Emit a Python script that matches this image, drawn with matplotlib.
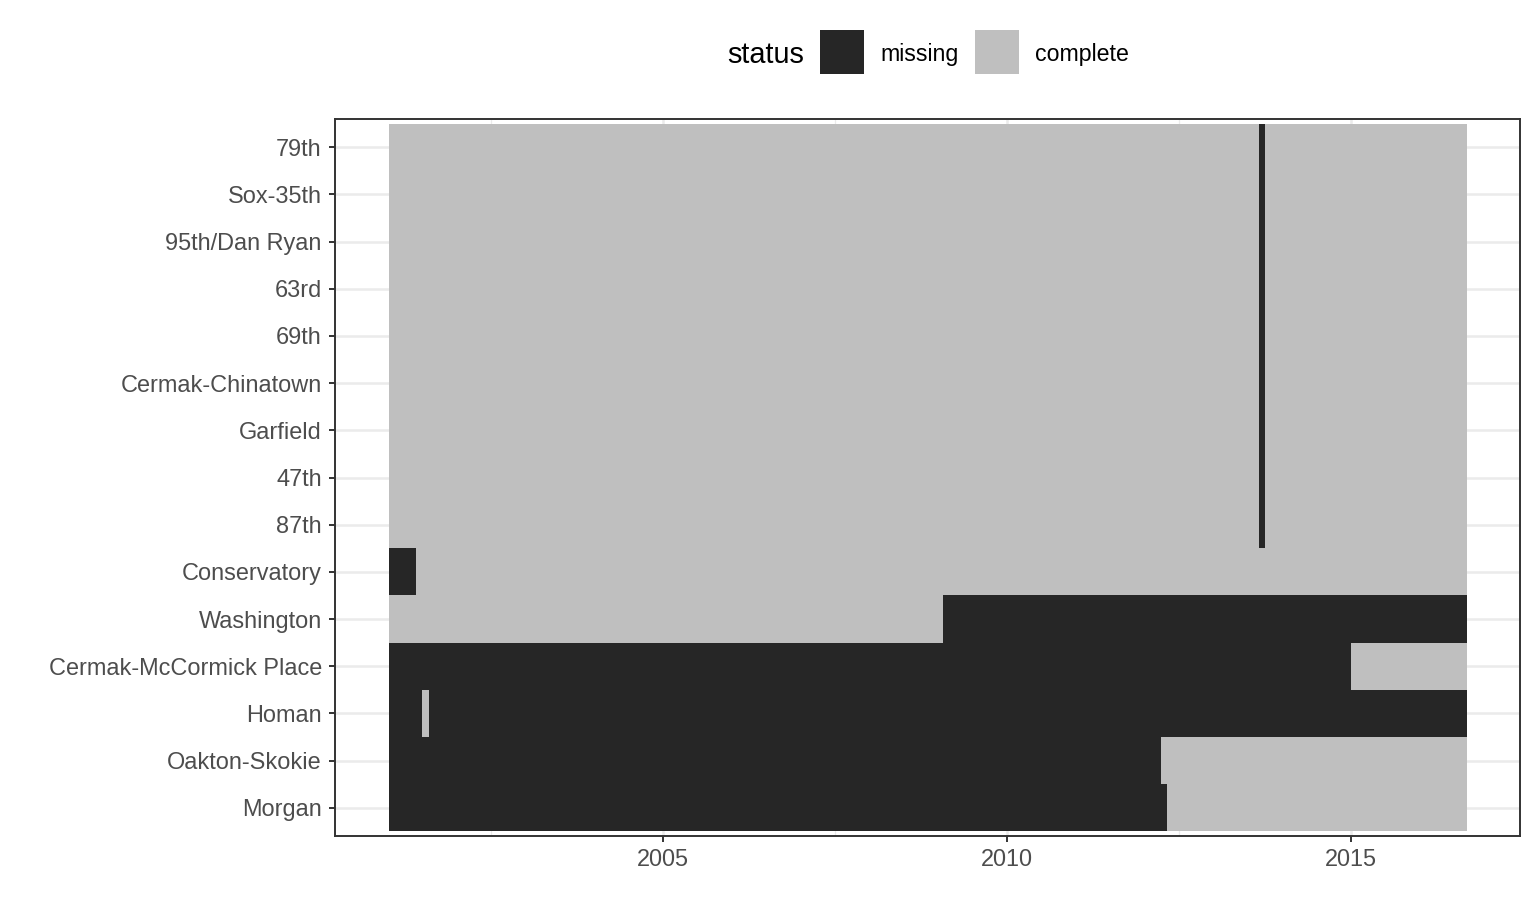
import matplotlib
matplotlib.use('Agg')
import matplotlib.pyplot as plt
from matplotlib.patches import Rectangle

# stations, top to bottom
stations = ['79th', 'Sox-35th', '95th/Dan Ryan', '63rd', '69th',
            'Cermak-Chinatown', 'Garfield', '47th', '87th', 'Conservatory',
            'Washington', 'Cermak-McCormick Place', 'Homan', 'Oakton-Skokie',
            'Morgan']

# observed period (decimal years)
period_start = 2001.02
period_end = 2016.69

# missing periods per station (decimal years)
red_line = ['79th', 'Sox-35th', '95th/Dan Ryan', '63rd', '69th',
            'Cermak-Chinatown', 'Garfield', '47th', '87th']
missing_station = red_line + ['Conservatory', 'Washington',
                              'Cermak-McCormick Place', 'Homan', 'Homan',
                              'Oakton-Skokie', 'Morgan']
missing_from = [2013.66] * 9 + [2001.02, 2009.08, 2001.02, 2001.02, 2001.60,
                                2001.02, 2001.02]
missing_to = [2013.75] * 9 + [2001.42, 2016.69, 2015.00, 2001.51, 2016.69,
                              2012.25, 2012.33]

x_ticks = [2005, 2010, 2015]
x_minor = [2002.5, 2007.5, 2012.5]

col_missing = '#262626'
col_complete = '#BFBFBF'
grid_col = '#EBEBEB'
axis_col = '#333333'
text_col = '#4D4D4D'

plt.rcParams['font.family'] = ['Liberation Sans', 'DejaVu Sans']

fig = plt.figure(figsize=(15.36, 9.21), dpi=100)
ax = fig.add_axes([335 / 1536, 1 - 836 / 921, (1520 - 335) / 1536, (836 - 119) / 921])

ypos = {s: i for i, s in enumerate(stations)}

# complete rows first, missing on top
ax.barh([ypos[s] for s in stations], [period_end - period_start] * len(stations),
        left=period_start, height=1.0, color=col_complete, linewidth=0, zorder=2)
ax.barh([ypos[s] for s in missing_station],
        [b - a for a, b in zip(missing_from, missing_to)],
        left=missing_from, height=1.0, color=col_missing, linewidth=0, zorder=3)

ax.set_xlim(2000.24, 2017.46)
ax.set_ylim(len(stations) - 0.4, -0.6)

ax.set_xticks(x_ticks)
ax.set_xticklabels([str(t) for t in x_ticks])
ax.set_xticks(x_minor, minor=True)
ax.set_yticks(range(len(stations)))
ax.set_yticklabels(stations)

for t in x_ticks:
    ax.axvline(t, color=grid_col, lw=1.8, zorder=0)
for t in x_minor:
    ax.axvline(t, color=grid_col, lw=0.9, zorder=0)
for i in range(len(stations)):
    ax.axhline(i, color=grid_col, lw=1.8, zorder=0)

ax.tick_params(axis='both', which='major', length=4, width=1.4, color=axis_col,
               labelsize=16.95, labelcolor=text_col, pad=5.5)
ax.tick_params(axis='x', which='minor', length=0)
for sp in ax.spines.values():
    sp.set_color(axis_col)
    sp.set_linewidth(1.4)
    sp.set_zorder(5)

# legend on top
ly = 1 - 55 / 921
fig.text(727 / 1536, ly, 'status', fontsize=20.8, color='black', va='center', ha='left')
for x0, c, lab, tx in [(820, col_missing, 'missing', 880),
                       (975, col_complete, 'complete', 1035)]:
    fig.add_artist(Rectangle((x0 / 1536, 1 - 74 / 921), 44 / 1536, 44 / 921,
                             transform=fig.transFigure, color=c, lw=0))
    fig.text(tx / 1536, ly, lab, fontsize=16.7, color='black', va='center', ha='left')

fig.savefig('out.png', dpi=100)
